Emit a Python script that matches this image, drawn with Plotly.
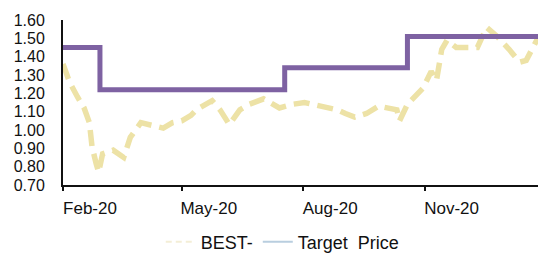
import plotly.graph_objects as go

# Share price (BEST-)
price_dates = [
    "2020-02-01", "2020-02-06", "2020-02-12", "2020-02-17", "2020-02-21", "2020-02-23",
    "2020-02-26", "2020-02-28", "2020-03-02", "2020-03-10", "2020-03-18", "2020-03-21",
    "2020-03-23", "2020-03-31", "2020-04-07", "2020-04-17", "2020-04-24", "2020-05-01",
    "2020-05-08", "2020-05-12", "2020-05-24", "2020-05-30", "2020-06-06", "2020-06-14",
    "2020-06-21", "2020-07-02", "2020-07-14", "2020-07-24", "2020-08-02", "2020-08-16",
    "2020-08-27", "2020-09-02", "2020-09-09", "2020-09-18", "2020-09-27", "2020-10-11",
    "2020-10-13", "2020-10-19", "2020-10-31", "2020-11-06", "2020-11-10", "2020-11-14",
    "2020-11-18", "2020-11-25", "2020-12-11", "2020-12-18", "2020-12-26", "2021-01-04",
    "2021-01-12", "2021-01-17", "2021-01-25", "2021-01-31",
]
price_values = [
    1.36, 1.26, 1.18, 1.12, 1.04, 0.91,
    0.82, 0.77, 0.87, 0.89, 0.85, 0.91,
    0.96, 1.04, 1.03, 1.01, 1.04, 1.05,
    1.08, 1.11, 1.16, 1.11, 1.03, 1.11,
    1.14, 1.17, 1.12, 1.14, 1.15, 1.13,
    1.11, 1.09, 1.07, 1.09, 1.13, 1.11,
    1.05, 1.14, 1.23, 1.32, 1.27, 1.44,
    1.49, 1.45, 1.45, 1.56, 1.51, 1.44,
    1.37, 1.38, 1.49, 1.47,
]

# Target price (step)
target_dates = ["2020-02-01", "2020-02-29", "2020-07-18", "2020-10-19", "2021-01-31"]
target_values = [1.45, 1.22, 1.34, 1.51, 1.51]

tick_vals = ["2020-02-01", "2020-05-01", "2020-08-01", "2020-11-01"]
tick_text = ["Feb-20", "May-20", "Aug-20", "Nov-20"]
y_ticks = [0.70, 0.80, 0.90, 1.00, 1.10, 1.20, 1.30, 1.40, 1.50, 1.60]

PRICE_COLOR = "#EDE2A6"
TARGET_COLOR = "#7E62A2"
FONT = "Liberation Sans, Arial, sans-serif"

fig = go.Figure()
fig.add_trace(go.Scatter(
    x=price_dates, y=price_values, mode="lines", name="BEST-",
    line=dict(color=PRICE_COLOR, width=5.5, dash="16px,8px", shape="linear"),
    showlegend=False,
))
fig.add_trace(go.Scatter(
    x=target_dates, y=target_values, mode="lines", name="Target Price",
    line=dict(color=TARGET_COLOR, width=5, shape="hv"),
    showlegend=False,
))
# legend entries (faded as in the reference)
fig.add_trace(go.Scatter(
    x=[None], y=[None], mode="lines", name="BEST-",
    line=dict(color="#F4EED6", width=2, dash="6px,4px"),
))
fig.add_trace(go.Scatter(
    x=[None], y=[None], mode="lines", name="Target\u00a0\u00a0Price",
    line=dict(color="#B9CEDF", width=2),
))

# the page body adds an 8px offset, compensated in the margins
fig.update_layout(
    width=546, height=255,
    margin=dict(l=55, r=8, t=12, b=78, autoexpand=False),
    paper_bgcolor="white", plot_bgcolor="white",
    font=dict(family=FONT, size=17, color="#111111"),
    legend=dict(orientation="h", x=0.455, xanchor="center", y=-0.345, yanchor="middle",
                font=dict(size=18), itemwidth=30, bgcolor="rgba(0,0,0,0)"),
)
fig.update_xaxes(
    type="date", range=["2020-02-01", "2021-02-01"],
    tickvals=tick_vals, ticktext=tick_text,
    showgrid=False, zeroline=False, automargin=False,
    showline=True, linecolor="#111111", linewidth=2,
    ticks="outside", ticklen=4, tickcolor="#111111", tickwidth=2,
    tickfont=dict(size=17), ticklabelshift=27, ticklabelstandoff=3,
)
fig.update_yaxes(
    range=[0.70, 1.60], tickvals=y_ticks, tickformat=".2f",
    showgrid=False, zeroline=False, automargin=False,
    showline=True, linecolor="#111111", linewidth=2,
    ticks="", tickfont=dict(size=16), ticklabelstandoff=13,
)

fig.write_html("out.html")
